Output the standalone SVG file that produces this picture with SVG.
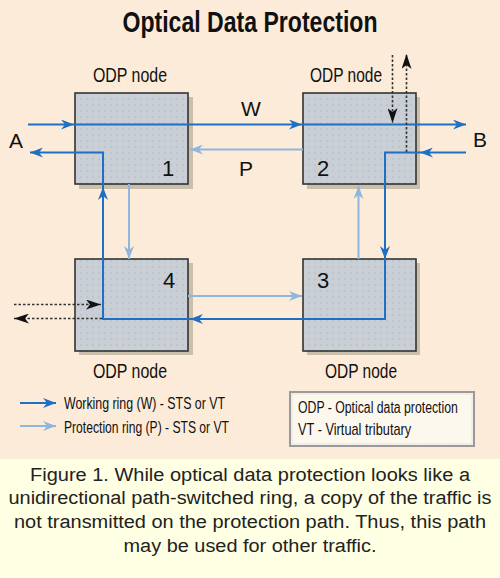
<svg xmlns="http://www.w3.org/2000/svg" width="500" height="578" viewBox="0 0 500 578">
<defs>
<style>
.title{font-family:"Liberation Sans",Arial,sans-serif;font-weight:bold;font-size:30px;fill:#111;}
.lbl{font-family:"Liberation Sans",Arial,sans-serif;font-size:21px;fill:#111;}
.num{font-family:"Liberation Sans",Arial,sans-serif;font-size:22px;fill:#111;}
.leg{font-family:"Liberation Sans",Arial,sans-serif;font-size:17px;fill:#111;}
.key{font-family:"Liberation Sans",Arial,sans-serif;font-size:16px;fill:#111;}
.cap{font-family:"Liberation Sans",Arial,sans-serif;font-size:18px;fill:#222;}
.box{fill:url(#dots);stroke:#333;stroke-width:1.6;}
.shadow{fill:#c9bfab;}
.w{fill:none;stroke:#1f6fc3;stroke-width:2;}
.p{fill:none;stroke:#8fb6dc;stroke-width:2;}
.d{fill:none;stroke:#333;stroke-width:1.6;stroke-dasharray:2.5,2;}
</style>
<pattern id="bgdots" width="6" height="6" patternUnits="userSpaceOnUse">
<rect width="6" height="6" fill="#fcebd8"/>
<circle cx="3" cy="3" r="0.6" fill="#fff6ec"/>
</pattern>
<pattern id="dots" width="6" height="6" patternUnits="userSpaceOnUse">
<rect width="6" height="6" fill="#c9cfd4"/>
<circle cx="3" cy="3" r="0.7" fill="#9fb6cc"/>
</pattern>
<marker id="aw" markerUnits="userSpaceOnUse" markerWidth="14" markerHeight="10" refX="13" refY="5" orient="auto">
<path d="M0,0 L13,5 L0,10 L4,5 Z" fill="#1f6fc3"/>
</marker>
<marker id="ap" markerUnits="userSpaceOnUse" markerWidth="14" markerHeight="10" refX="13" refY="5" orient="auto">
<path d="M0,0 L13,5 L0,10 L4,5 Z" fill="#8fb6dc"/>
</marker>
<marker id="ad" markerUnits="userSpaceOnUse" markerWidth="16" markerHeight="10" refX="15" refY="5" orient="auto">
<path d="M0,0 L15,5 L0,10 L4,5 Z" fill="#111"/>
</marker>
</defs>
<rect x="0" y="0" width="500" height="459" fill="url(#bgdots)"/>
<rect x="0" y="459" width="500" height="119" fill="#ffffe4"/>
<text class="title" x="250" y="32" text-anchor="middle" textLength="255" lengthAdjust="spacingAndGlyphs">Optical Data Protection</text>

<g id="node1">
<rect class="shadow" x="79" y="97" width="114" height="92"/>
<rect class="box" x="75" y="93" width="113" height="91"/>
<text class="num" x="168" y="176" text-anchor="middle">1</text>
<text class="lbl" x="93" y="82" textLength="74" lengthAdjust="spacingAndGlyphs">ODP node</text>
</g>
<g id="node2">
<rect class="shadow" x="307" y="97" width="113" height="92"/>
<rect class="box" x="303" y="93" width="113" height="91"/>
<text class="num" x="323" y="176" text-anchor="middle">2</text>
<text class="lbl" x="310" y="82" textLength="72" lengthAdjust="spacingAndGlyphs">ODP node</text>
</g>
<g id="node4">
<rect class="shadow" x="79" y="263" width="114" height="92"/>
<rect class="box" x="75" y="259" width="113" height="92"/>
<text class="num" x="169" y="288" text-anchor="middle">4</text>
<text class="lbl" x="93" y="378" textLength="74" lengthAdjust="spacingAndGlyphs">ODP node</text>
</g>
<g id="node3">
<rect class="shadow" x="307" y="263" width="113" height="92"/>
<rect class="box" x="303" y="259" width="113" height="92"/>
<text class="num" x="323" y="288" text-anchor="middle">3</text>
<text class="lbl" x="325" y="378" textLength="72" lengthAdjust="spacingAndGlyphs">ODP node</text>
</g>

<g id="connectors">
<line class="w" x1="28" y1="124.5" x2="74" y2="124.5" marker-end="url(#aw)"/>
<line class="w" x1="74" y1="124.5" x2="302" y2="124.5" marker-end="url(#aw)"/>
<line class="w" x1="302" y1="124.5" x2="466" y2="124.5" marker-end="url(#aw)"/>
<line class="w" x1="466" y1="152.5" x2="420" y2="152.5" marker-end="url(#aw)"/>
<polyline class="w" points="420,152.5 385,152.5 385,259" marker-end="url(#aw)"/>
<polyline class="w" points="385,259 385,319 190,319" marker-end="url(#aw)"/>
<polyline class="w" points="190,319 103,319 103,187" marker-end="url(#aw)"/>
<polyline class="w" points="103,187 103,152.5 30,152.5" marker-end="url(#aw)"/>
<line class="p" x1="303" y1="149.5" x2="190" y2="149.5" marker-end="url(#ap)"/>
<line class="p" x1="129" y1="184" x2="129" y2="259" marker-end="url(#ap)"/>
<line class="p" x1="188" y1="296" x2="302" y2="296" marker-end="url(#ap)"/>
<line class="p" x1="358.5" y1="259" x2="358.5" y2="186" marker-end="url(#ap)"/>
<line class="d" x1="392.5" y1="55" x2="392.5" y2="123" marker-end="url(#ad)"/>
<line class="d" x1="406.5" y1="152" x2="406.5" y2="54" marker-end="url(#ad)"/>
<line class="d" x1="14" y1="304.5" x2="101" y2="304.5" marker-end="url(#ad)"/>
<line class="d" x1="102" y1="318.5" x2="14" y2="318.5" marker-end="url(#ad)"/>
</g>

<g id="labels">
<text class="lbl" x="251" y="116" text-anchor="middle">W</text>
<text class="lbl" x="246" y="176" text-anchor="middle">P</text>
<text class="lbl" x="16" y="148" text-anchor="middle">A</text>
<text class="lbl" x="480" y="147" text-anchor="middle">B</text>
</g>

<g id="legend">
<line class="w" x1="20" y1="403" x2="56" y2="403" marker-end="url(#aw)"/>
<line class="p" x1="20" y1="426" x2="56" y2="426" marker-end="url(#ap)"/>
<text class="leg" x="64" y="409" textLength="161" lengthAdjust="spacingAndGlyphs">Working ring (W) - STS or VT</text>
<text class="leg" x="64" y="433" textLength="165" lengthAdjust="spacingAndGlyphs">Protection ring (P) - STS or VT</text>
</g>
<g id="key">
<rect x="290" y="392" width="184" height="54" fill="#fdf8ee" stroke="#9a9a9a" stroke-width="2"/>
<rect x="292" y="394" width="180" height="50" fill="none" stroke="#e8e4dc" stroke-width="1"/>
<text class="key" transform="translate(298,413) scale(0.766,1)">ODP - Optical data protection</text>
<text class="key" transform="translate(298,435) scale(0.8,1)">VT - Virtual tributary</text>
</g>

<g id="caption">
<text class="cap" x="250" y="481" text-anchor="middle" textLength="440" lengthAdjust="spacingAndGlyphs">Figure 1. While optical data protection looks like a</text>
<text class="cap" x="250" y="504" text-anchor="middle" textLength="483" lengthAdjust="spacingAndGlyphs">unidirectional path-switched ring, a copy of the traffic is</text>
<text class="cap" x="250" y="528" text-anchor="middle" textLength="472" lengthAdjust="spacingAndGlyphs">not transmitted on the protection path. Thus, this path</text>
<text class="cap" x="250" y="552" text-anchor="middle" textLength="253" lengthAdjust="spacingAndGlyphs">may be used for other traffic.</text>
</g>
</svg>
